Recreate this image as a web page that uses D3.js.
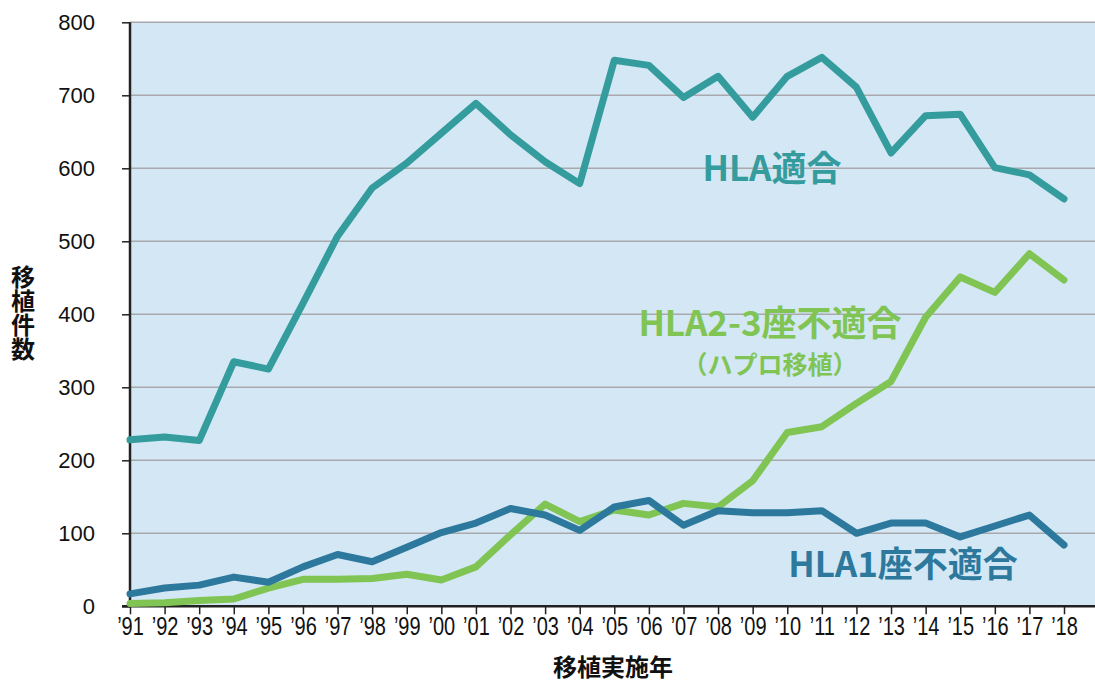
<!DOCTYPE html>
<html><head><meta charset="utf-8">
<script src="https://cdn.jsdelivr.net/npm/d3@7"></script>
<style>
html,body{margin:0;padding:0;background:#fff;}
svg{display:block;}
text{font-family:"Liberation Sans","Noto Sans CJK JP",sans-serif;}
</style></head><body>
<svg id="c" width="1095" height="684"></svg>
<script>
const years = [1991,1992,1993,1994,1995,1996,1997,1998,1999,2000,2001,2002,2003,2004,2005,2006,2007,2008,2009,2010,2011,2012,2013,2014,2015,2016,2017,2018];
const tickLabels = ["’91","’92","’93","’94","’95","’96","’97","’98","’99","’00","’01","’02","’03","’04","’05","’06","’07","’08","’09","’10","’11","’12","’13","’14","’15","’16","’17","’18"];
const hlaMatch = [228,232,227,335,325,415,507,573,607,648,689,646,609,579,748,741,697,726,670,726,752,711,621,672,674,601,591,558];
const hla23 = [4,5,8,10,25,37,37,38,44,36,54,98,140,116,132,125,141,136,172,238,246,278,308,396,451,430,483,447];
const hla1 = [17,25,29,40,33,54,71,61,81,101,114,134,125,104,136,145,111,131,128,128,131,100,114,114,95,110,125,84];
const yTicks = [0,100,200,300,400,500,600,700,800];

const svg = d3.select("#c");
const L = 130, R = 1095, T = 22.3, B = 606.3;
const x = d3.scaleLinear().domain([1991, 2018]).range([130, 1064]);
const y = d3.scaleLinear().domain([0, 800]).range([B, T]);

svg.append("rect").attr("x", L).attr("y", T).attr("width", R - L).attr("height", B - T).attr("fill", "#d3e7f5");

// gridlines
svg.append("g").selectAll("line").data(yTicks.filter(d => d > 0)).join("line")
  .attr("x1", L).attr("x2", R).attr("y1", d => y(d)).attr("y2", d => y(d))
  .attr("stroke", "#a9a9ad").attr("stroke-width", 1.5);

// y axis
const yAxis = svg.append("g").attr("transform", `translate(${L},0)`)
  .call(d3.axisLeft(y).tickValues(yTicks).tickSize(8).tickPadding(27));
yAxis.select(".domain").attr("stroke", "#222").attr("stroke-width", 2.5).attr("d", `M0,${T}V${B}`);
yAxis.selectAll(".tick line").attr("stroke", "#222").attr("stroke-width", 1.5);
yAxis.selectAll(".tick text").attr("font-size", 22).attr("fill", "#111")
  .style("font-family", "Liberation Sans, sans-serif");

// x axis
const xAxis = svg.append("g").attr("transform", `translate(0,${B})`)
  .call(d3.axisBottom(x).tickValues(years).tickFormat((d, i) => tickLabels[i]).tickSize(8).tickPadding(3));
xAxis.select(".domain").attr("stroke", "#222").attr("stroke-width", 2.5).attr("d", `M${L - 8},0H${R}`);
xAxis.selectAll(".tick line").attr("stroke", "#222").attr("stroke-width", 1.5);
xAxis.selectAll(".tick text").attr("font-size", 25).attr("fill", "#111")
  .attr("transform", "scale(0.8,1)")
  .style("font-family", "Liberation Sans, sans-serif");

// lines
const line = d3.line().x((d, i) => x(years[i])).y(d => y(d));
const series = [
  {data: hlaMatch, color: "#349c9d"},
  {data: hla23, color: "#80c454"},
  {data: hla1, color: "#2d789d"}
];
svg.append("g").selectAll("path").data(series).join("path")
  .attr("d", d => line(d.data)).attr("fill", "none")
  .attr("stroke", d => d.color).attr("stroke-width", 7)
  .attr("stroke-linejoin", "round").attr("stroke-linecap", "round");

// series labels
const lab = (t, cx, by, size, color) => svg.append("text").attr("x", cx).attr("y", by)
  .attr("text-anchor", "middle").attr("font-size", size).attr("font-weight", "bold")
  .attr("fill", color).style("font-family", "Noto Sans CJK JP, sans-serif").text(t);
lab("HLA適合", 772, 181, 35, "#349c9d");
lab("HLA2-3座不適合", 770, 336, 35, "#80c454");
lab("（ハプロ移植）", 770, 374, 25, "#80c454");
lab("HLA1座不適合", 903, 577, 35, "#2d789d");

// axis titles
svg.append("text").attr("x", 23).attr("y", 313)
  .attr("text-anchor", "middle").attr("font-size", 24).attr("font-weight", "bold").attr("fill", "#111")
  .style("writing-mode", "vertical-rl").style("text-orientation", "upright")
  .style("font-family", "Noto Sans CJK JP, sans-serif").text("移植件数");
svg.append("text").attr("x", 613).attr("y", 676).attr("text-anchor", "middle")
  .attr("font-size", 24).attr("font-weight", "bold").attr("fill", "#111")
  .style("font-family", "Noto Sans CJK JP, sans-serif").text("移植実施年");
</script>
</body></html>
